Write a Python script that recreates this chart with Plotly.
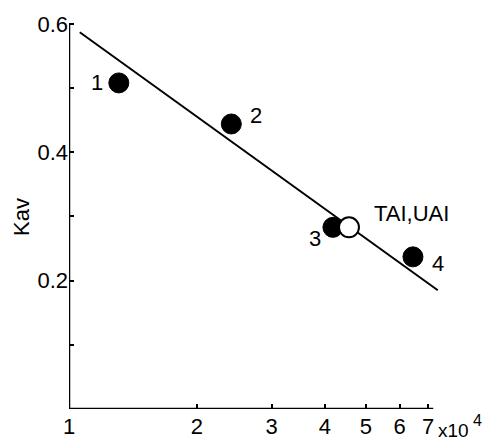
import plotly.graph_objects as go
import math

# Data (x in units of 10^4)
pt_x = [1.31, 2.41, 4.18, 6.45]
pt_y = [0.508, 0.444, 0.283, 0.237]
pt_labels = ["1", "2", "3", "4"]
open_x = [4.56]
open_y = [0.283]
open_label = "TAI,UAI"
fit_x = [1.06, 7.38]
fit_y = [0.587, 0.185]
x_ticks = [1, 2, 3, 4, 5, 6, 7]
y_ticks = [0.1, 0.2, 0.3, 0.4, 0.5, 0.6]
y_ticktext = ["", "0.2", "", "0.4", "", "0.6"]
x_unit_base = "x10"
x_unit_exp = "4"

FONT = "Liberation Sans"
FS = 22

fig = go.Figure()
fig.add_trace(go.Scatter(x=fit_x, y=fit_y, mode="lines",
                         line=dict(color="black", width=2), showlegend=False, hoverinfo="skip"))
fig.add_trace(go.Scatter(x=pt_x, y=pt_y, mode="markers",
                         marker=dict(color="black", size=20, line=dict(color="black", width=1)),
                         showlegend=False))
fig.add_trace(go.Scatter(x=open_x, y=open_y, mode="markers",
                         marker=dict(color="white", size=20, line=dict(color="black", width=2)),
                         showlegend=False))

shifts = [(-22, 0), (25, 8), (-18, -11), (25, -7)]
for x, y, t, (dx, dy) in zip(pt_x, pt_y, pt_labels, shifts):
    fig.add_annotation(x=math.log10(x), y=y, text=t, showarrow=False, xshift=dx, yshift=dy,
                       font=dict(family=FONT, size=FS, color="black"))
fig.add_annotation(x=math.log10(open_x[0]), y=open_y[0], text=open_label, showarrow=False,
                   xshift=63, yshift=14, font=dict(family=FONT, size=FS, color="black"))
# "x10^4" multiplier
fig.add_annotation(x=(436 - 69) / 376, y=(409 - 431) / 389, xref="paper", yref="paper",
                   xanchor="left", yanchor="middle",
                   text=x_unit_base, showarrow=False,
                   font=dict(family=FONT, size=19, color="black"))
fig.add_annotation(x=(471 - 69) / 376, y=(409 - 420) / 389, xref="paper", yref="paper",
                   xanchor="left", yanchor="middle",
                   text=x_unit_exp, showarrow=False,
                   font=dict(family=FONT, size=16, color="black"))
fig.add_annotation(x=(21 - 69) / 376, y=(409 - 217) / 389, xref="paper", yref="paper",
                   xanchor="center", yanchor="middle", textangle=-90,
                   text="Kav", showarrow=False,
                   font=dict(family=FONT, size=FS, color="black"))

# axis lines
fig.add_shape(type="line", x0=1, x1=7.2, y0=0, y1=0, xref="x", yref="y",
              line=dict(color="black", width=2.5))
fig.add_shape(type="line", x0=1, x1=1, y0=0, y1=0.6, xref="x", yref="y",
              line=dict(color="black", width=2.5))

fig.update_xaxes(type="log", range=[0, 0.885], tickvals=x_ticks, ticktext=[str(v) for v in x_ticks],
                 ticks="inside", ticklen=5, tickwidth=1.5, tickcolor="black", automargin=False,
                 showgrid=False, zeroline=False, showline=False, ticklabelstandoff=2,
                 tickfont=dict(family=FONT, size=FS, color="black"))
fig.update_yaxes(range=[0, 0.606], tickvals=y_ticks, ticktext=y_ticktext,
                 ticks="inside", ticklen=5, tickwidth=1.5, tickcolor="black", automargin=False,
                 showgrid=False, zeroline=False, showline=False,
                 tickfont=dict(family=FONT, size=FS, color="black"))

# page body has an 8px margin: size the figure so it fits the 491x445 window
fig.update_layout(width=483, height=437, margin=dict(l=61, r=46, t=12, b=36),
                  plot_bgcolor="white", paper_bgcolor="white")

fig.write_html("out.html")
